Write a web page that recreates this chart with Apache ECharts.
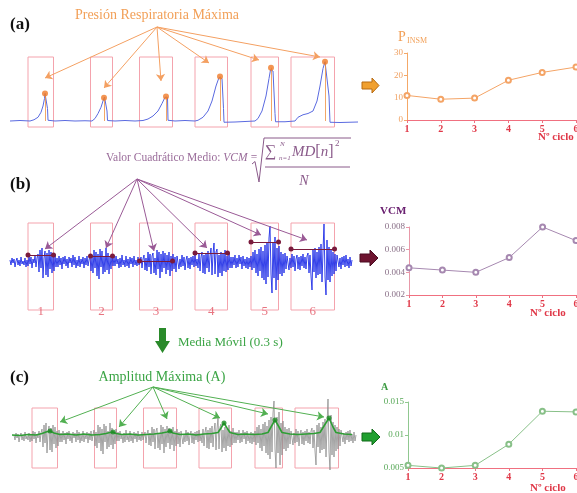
<!DOCTYPE html>
<html><head><meta charset="utf-8">
<script src="https://cdn.jsdelivr.net/npm/echarts@6/dist/echarts.min.js"></script>
<style>html,body{margin:0;padding:0;background:#fff}#c{width:577px;height:493px}</style>
</head><body><div id="c"></div>
<script>
// ---------- data ----------
const cycles = ['1', '2', '3', '4', '5', '6'];
const pInsm = [11, 9.3, 9.8, 17.8, 21.3, 23.7];
const vcm = [0.0044, 0.0042, 0.0040, 0.0053, 0.0080, 0.0068];
const ampMax = [0.0054, 0.0050, 0.0054, 0.0086, 0.0136, 0.0135];
const pTicks = [0, 10, 20, 30];
const vcmTicks = [0.002, 0.004, 0.006, 0.008];
const aTicks = [0.005, 0.01, 0.015];

// pressure signal [time s, pressure]
const pressure = [[1.0,0],[2.0,0.2],[3.0,0],[3.4,0.5],[3.8,1.5],[4.1,3.5],[4.3,6],[4.45,9],[4.5,11],[4.62,10.5],[4.75,5],[4.8,0.3],[5.5,0],[6.5,0.2],[7.5,0],[8.5,0.1],[9.2,0],[9.5,1],[9.8,3],[10.1,5.5],[10.3,8],[10.45,9.6],[10.6,9],[10.7,4],[10.75,0.2],[11.5,0],[12.5,0.2],[13.5,0],[14.3,0.2],[14.8,0.8],[15.3,2],[15.8,4],[16.2,7],[16.5,9.5],[16.6,9.8],[16.75,9.4],[16.8,0.3],[17.5,0],[18.5,0.2],[19.5,0],[19.8,0.3],[20.3,1.5],[20.8,4],[21.2,8],[21.6,14],[21.9,17.4],[22.0,17.8],[22.2,17],[22.35,5],[22.4,-0.5],[23.5,-0.4],[24.5,-0.2],[25.5,0],[25.8,1],[26.2,4],[26.6,10],[26.9,17],[27.05,20.5],[27.15,21.3],[27.3,20],[27.5,3],[27.55,-0.3],[28.5,-0.3],[29.5,0],[29.8,1.5],[30.3,2.5],[30.8,3],[31.3,4],[31.7,8],[32.0,14],[32.3,21],[32.5,23.7],[32.7,23],[32.9,10],[33.0,-0.5],[34,-0.6],[35.8,-0.4]];
const peakT = [4.5, 10.4, 16.6, 22.0, 27.1, 32.5];

// EMG signal (sampled every 0.1 s from 1.0 s)
const emg = [2,-3,4,-1,3,-5,1,4,-3,2,-4,5,-2,1,-3,4,-5,2,
 -4,6,-2,5,-6,3,-1,6,-5,4,
 8,-10,12,-6,14,-16,4,11,-13,9,-15,12,-7,10,-11,6,-9,7,-5,4,
 -5,6,-3,4,-7,5,-2,6,-4,3,-6,5,-1,4,-5,7,-3,5,-6,2,-4,6,-5,3,-2,5,-6,4,-3,6,-4,2,
 7,-9,5,-11,12,-6,10,-14,8,-17,13,-5,11,-12,6,-10,14,-8,9,-12,5,-7,8,-4,
 5,-4,6,-2,3,-6,4,-5,7,-3,2,-5,6,-4,3,-6,5,-2,4,-5,6,-3,2,-4,5,-3,
 -4,5,-6,3,7,-8,4,-9,10,-5,8,-12,6,9,-11,4,-13,12,-7,10,-16,8,-10,11,-6,9,-12,7,-8,10,-14,6,-9,8,-7,5,-10,6,
 6,-7,3,-5,7,-4,5,-8,2,6,-6,4,-7,5,-3,6,-5,7,-4,3,
 -6,8,-9,5,10,-11,7,-12,9,-6,11,-10,6,14,-13,8,19,-12,10,13,-15,7,-11,10,-14,8,-9,12,-10,6,-8,9,-6,5,
 -6,5,-3,7,-6,4,-5,7,-2,5,-7,6,-4,3,-6,5,-7,4,-5,6,
 -8,10,-6,12,-11,8,-14,13,-9,15,-16,11,-18,17,-22,20,-15,24,36,-12,-31,20,-16,25,-28,14,-18,16,-12,10,-14,8,-11,9,-7,6,
 7,-8,4,-6,8,-5,6,-9,3,7,-7,5,-8,6,-4,8,-6,5,-7,6,
 9,-11,7,-14,-28,12,-10,14,-16,10,-13,15,-12,18,-20,11,38,-15,-33,22,-18,15,-20,12,-14,10,-12,8,-9,7,
 6,-5,4,-7,5,-3,6,-5,7,-4,3,-6,5,-4,2];
const emgT0 = 1.0, emgDt = 0.1;
const rmsLevel = [7, 6, 1, 9, 20, 13];

// moving average (0.3 s) of EMG
const movAvg = [[0.8,2],[1.6,1.5],[2.4,2.5],[3.2,2],[3.8,3.5],[4.2,5],[4.6,6],[5.0,4],[5.6,2.5],[6.4,3],[7.2,2],[8.0,3],[8.8,2],[9.6,2.5],[10.2,3.5],[10.6,4.5],[10.9,5],[11.2,3.5],[11.8,2.5],[12.6,3],[13.4,2],[14.2,2.5],[15.0,3],[15.8,4],[16.3,5],[16.6,6],[16.9,4],[17.6,2.5],[18.4,3],[19.2,2],[20.0,3],[20.8,3.5],[21.4,4.5],[21.7,9],[22.0,14],[22.3,9],[22.6,4.5],[23.4,2.5],[24.2,3],[25.0,2.5],[25.8,3],[26.4,4.5],[26.7,10],[27.1,17],[27.5,10],[27.8,4.5],[28.6,3],[29.4,2.5],[30.2,3],[31.0,3.5],[31.6,4.5],[32.0,11],[32.5,19],[32.9,10],[33.2,4.5],[34.0,3],[34.8,2.5]];
const maPeakT = [4.6, 10.9, 16.6, 22.0, 27.1, 32.5];
const maPeakV = [6, 5, 6, 14, 17, 19];

// analysis windows per cycle [start, end] (s)
const cycleWin = [[2.8,5.35],[9.05,11.25],[13.95,17.25],[19.5,22.75],[25.1,27.85],[29.1,33.45]];

// annotation arrows
const originA = [15.7, 37.6];
const arrowA = [[4.5,17.2],[10.4,13.2],[16.1,16],[20.9,23.2],[25.9,24.4],[32.0,25.6]];
const originB = [13.7, 83];
const arrowB = [[4.5,13],[10.6,14],[15.4,11],[20.7,14],[26.1,27],[30.7,22]];
const originC = [14.9, 50];
const arrowC = [[5.6,15],[11.5,10],[16.3,18],[21.6,19],[26.4,23],[32.0,20]];

// ---------- chart ----------
const F = '"Liberation Serif","DejaVu Serif",serif';
const chart = echarts.init(document.getElementById('c'));

function boxes(lo, hi) {
  return {
    silent: true,
    itemStyle: { color: 'rgba(0,0,0,0)', borderColor: '#f4a3ad', borderWidth: 1 },
    label: { show: false },
    data: cycleWin.map(w => [{ coord: [w[0], lo] }, { coord: [w[1], hi] }])
  };
}
function arrows(origin, heads, color, xi) {
  return {
    type: 'lines', coordinateSystem: 'cartesian2d', xAxisIndex: xi, yAxisIndex: xi,
    symbol: ['none', 'arrow'], symbolSize: 7, silent: true,
    lineStyle: { color: color, width: 1, opacity: 1 },
    data: heads.map(h => ({ coords: [origin, h] })), z: 5
  };
}
const hidX = i => ({ gridIndex: i, type: 'value', min: 0, max: 36, show: false });
function catX(i) {
  return {
    gridIndex: i, type: 'category', data: cycles, boundaryGap: false,
    axisLine: { show: true, lineStyle: { color: '#f07080', width: 1 } },
    axisTick: { show: true, length: 3, lineStyle: { color: '#f07080' } },
    axisLabel: { color: '#e03848', fontWeight: 'bold', fontSize: 10, fontFamily: F, margin: 4 },
    splitLine: { show: false }
  };
}
function valY(i, ticks, axisColor, labelColor) {
  return {
    gridIndex: i, type: 'value', min: ticks[0], max: ticks[ticks.length - 1],
    interval: ticks[1] - ticks[0],
    axisLine: { show: true, lineStyle: { color: axisColor } },
    axisTick: { show: true, length: 3, lineStyle: { color: axisColor } },
    axisLabel: { color: labelColor, fontSize: 9, fontFamily: F, margin: 4 },
    splitLine: { show: false }
  };
}
function rightLine(i, data, color) {
  return {
    type: 'line', xAxisIndex: i, yAxisIndex: i, data: data,
    symbol: 'emptyCircle', symbolSize: 5, clip: false,
    lineStyle: { color: color, width: 1 }, itemStyle: { color: color }
  };
}
const emgPairs = emg.map((v, i) => [emgT0 + i * emgDt, v]);

const option = {
  animation: false,
  grid: [
    { left: 0, top: 1, width: 360, height: 135, outerBoundsMode: 'none' },
    { left: 0, top: 136, width: 360, height: 180, outerBoundsMode: 'none' },
    { left: 4, top: 312, width: 360, height: 180, outerBoundsMode: 'none' },
    { left: 407, top: 53, width: 169, height: 67, outerBoundsMode: 'none' },
    { left: 409, top: 227, width: 167, height: 68, outerBoundsMode: 'none' },
    { left: 408, top: 402, width: 168, height: 66, outerBoundsMode: 'none' }
  ],
  xAxis: [hidX(0), hidX(1), hidX(2), catX(3), catX(4), catX(5)],
  yAxis: [
    { gridIndex: 0, type: 'value', min: -6, max: 48, show: false },
    { gridIndex: 1, type: 'value', min: -54, max: 126, show: false },
    { gridIndex: 2, type: 'value', min: -55, max: 125, show: false },
    valY(3, pTicks, '#f4a868', '#f0a060'),
    valY(4, vcmTicks, '#e898a8', '#8a7088'),
    valY(5, aTicks, '#90c890', '#58a858')
  ],
  series: [
    // (a) pressure
    { type: 'line', xAxisIndex: 0, yAxisIndex: 0, data: pressure, symbol: 'none',
      lineStyle: { color: '#5a6ae0', width: 1 }, markArea: boxes(-2.4, 25.6), z: 3 },
    { type: 'lines', coordinateSystem: 'cartesian2d', xAxisIndex: 0, yAxisIndex: 0, silent: true,
      lineStyle: { color: '#f09040', width: 0.8, opacity: 1 },
      data: peakT.map((t, i) => ({ coords: [[t, 0], [t, pInsm[i]]] })), z: 4 },
    { type: 'scatter', xAxisIndex: 0, yAxisIndex: 0, symbolSize: 6,
      itemStyle: { color: '#f07a28' }, data: peakT.map((t, i) => [t, pInsm[i]]), z: 6 },
    arrows(originA, arrowA, '#f4a062', 0),
    // (b) EMG
    { type: 'line', xAxisIndex: 1, yAxisIndex: 1, symbol: 'none', data: emgPairs,
      lineStyle: { color: '#1e2ce6', width: 0.9 }, markArea: boxes(-48, 39), z: 3 },
    { type: 'lines', coordinateSystem: 'cartesian2d', xAxisIndex: 1, yAxisIndex: 1, silent: true,
      symbol: ['circle', 'circle'], symbolSize: 5,
      lineStyle: { color: '#7a1a3c', width: 1, opacity: 1 },
      data: cycleWin.map((w, i) => ({ coords: [[w[0], rmsLevel[i]], [w[1], rmsLevel[i]]] })), z: 6 },
    arrows(originB, arrowB, '#9a5a96', 1),
    { type: 'scatter', xAxisIndex: 1, yAxisIndex: 1, symbolSize: 1, itemStyle: { color: 'rgba(0,0,0,0)' },
      data: cycleWin.map(w => [(w[0] + w[1]) / 2, -50]),
      label: { show: true, position: 'inside', formatter: p => cycles[p.dataIndex],
        color: '#e25262', fontSize: 13, fontFamily: F } },
    // (c) EMG + moving average
    { type: 'line', xAxisIndex: 2, yAxisIndex: 2, symbol: 'none', data: emgPairs,
      lineStyle: { color: '#8e8e8e', width: 0.8 }, markArea: boxes(-31, 29), z: 3 },
    { type: 'line', xAxisIndex: 2, yAxisIndex: 2, symbol: 'none', data: movAvg,
      lineStyle: { color: '#2e9e34', width: 1.6 }, z: 4 },
    { type: 'scatter', xAxisIndex: 2, yAxisIndex: 2, symbolSize: 5,
      itemStyle: { color: '#1a8a22' }, data: maPeakT.map((t, i) => [t, maPeakV[i]]), z: 6 },
    arrows(originC, arrowC, '#52b052', 2),
    // right charts
    rightLine(3, pInsm, '#f4a466'),
    rightLine(4, vcm, '#a688b0'),
    rightLine(5, ampMax, '#88c088')
  ],
  graphic: [
    { type: 'text', x: 10, y: 25, style: { text: '(a)', font: 'bold 17px ' + F, fill: '#111', verticalAlign: 'middle' } },
    { type: 'text', x: 10, y: 185, style: { text: '(b)', font: 'bold 17px ' + F, fill: '#111', verticalAlign: 'middle' } },
    { type: 'text', x: 10, y: 378, style: { text: '(c)', font: 'bold 17px ' + F, fill: '#111', verticalAlign: 'middle' } },
    { type: 'text', x: 157, y: 15, style: { text: 'Presión Respiratoria Máxima', font: '14px ' + F, fill: '#f2a058', align: 'center', verticalAlign: 'middle' } },
    { type: 'text', x: 106, y: 158, style: { text: '{n|Valor Cuadrático Medio: }{i|VCM} {n|=}', verticalAlign: 'middle',
        rich: { n: { fontSize: 11.5, fontFamily: F, fill: '#9a6c9a' }, i: { fontSize: 11.5, fontFamily: F, fontStyle: 'italic', fill: '#9a6c9a' } } } },
    { type: 'polyline', shape: { points: [[252, 164], [255, 161.5], [259, 182], [264, 138], [351, 138]] }, style: { stroke: '#8a5a8a', lineWidth: 1, fill: null } },
    { type: 'text', x: 265, y: 152, style: { text: '∑', font: '16px ' + F, fill: '#8a5a8a', verticalAlign: 'middle' } },
    { type: 'text', x: 280, y: 144, style: { text: 'N', font: 'italic 7px ' + F, fill: '#8a5a8a', verticalAlign: 'middle' } },
    { type: 'text', x: 279, y: 158, style: { text: 'n=1', font: 'italic 7px ' + F, fill: '#8a5a8a', verticalAlign: 'middle' } },
    { type: 'text', x: 292, y: 152, style: { text: '{i|MD}{n|[}{i|n}{n|]}', verticalAlign: 'middle',
        rich: { n: { fontSize: 16, fontFamily: F, fill: '#8a5a8a' }, i: { fontSize: 15, fontFamily: F, fontStyle: 'italic', fill: '#8a5a8a' } } } },
    { type: 'text', x: 335, y: 144, style: { text: '2', font: '9px ' + F, fill: '#8a5a8a', verticalAlign: 'middle' } },
    { type: 'line', shape: { x1: 265, y1: 167, x2: 350, y2: 167 }, style: { stroke: '#8a5a8a', lineWidth: 1 } },
    { type: 'text', x: 304, y: 181, style: { text: 'N', font: 'italic 14px ' + F, fill: '#8a5a8a', align: 'center', verticalAlign: 'middle' } },
    { type: 'polygon', shape: { points: [[159, 328], [166, 328], [166, 341], [170, 341], [162.5, 353], [155, 341], [159, 341]] }, style: { fill: '#2a8a2a' } },
    { type: 'text', x: 178, y: 343, style: { text: 'Media Móvil (0.3 s)', font: '13px ' + F, fill: '#3aa444', verticalAlign: 'middle' } },
    { type: 'text', x: 162, y: 377, style: { text: 'Amplitud Máxima (A)', font: '14px ' + F, fill: '#3aa444', align: 'center', verticalAlign: 'middle' } },
    { type: 'polygon', shape: { points: [[362, 82], [372, 82], [372, 78], [379, 85.5], [372, 93], [372, 89], [362, 89]] }, style: { fill: '#f0a030', stroke: '#b86a10', lineWidth: 1 } },
    { type: 'polygon', shape: { points: [[360, 254], [370, 254], [370, 250], [378, 258], [370, 266], [370, 262], [360, 262]] }, style: { fill: '#6e1430', stroke: '#4a0a20', lineWidth: 1 } },
    { type: 'polygon', shape: { points: [[362, 433], [372, 433], [372, 429], [380, 437], [372, 445], [372, 441], [362, 441]] }, style: { fill: '#20a030', stroke: '#106a18', lineWidth: 1 } },
    { type: 'text', x: 398, y: 37, style: { text: 'P', font: '14px ' + F, fill: '#f2a058', verticalAlign: 'middle' } },
    { type: 'text', x: 407, y: 41, style: { text: 'INSM', font: '8px ' + F, fill: '#f2a058', verticalAlign: 'middle' } },
    { type: 'text', x: 380, y: 211, style: { text: 'VCM', font: 'bold 11px ' + F, fill: '#6a2070', verticalAlign: 'middle' } },
    { type: 'text', x: 381, y: 387, style: { text: 'A', font: 'bold 10px ' + F, fill: '#3a9a40', verticalAlign: 'middle' } },
    { type: 'text', x: 538, y: 137, style: { text: 'Nº ciclo', font: 'bold 11px ' + F, fill: '#e03848', verticalAlign: 'middle' } },
    { type: 'text', x: 530, y: 313, style: { text: 'Nº ciclo', font: 'bold 11px ' + F, fill: '#e03848', verticalAlign: 'middle' } },
    { type: 'text', x: 530, y: 488, style: { text: 'Nº ciclo', font: 'bold 11px ' + F, fill: '#e03848', verticalAlign: 'middle' } }
  ]
};
chart.setOption(option);
</script></body></html>
